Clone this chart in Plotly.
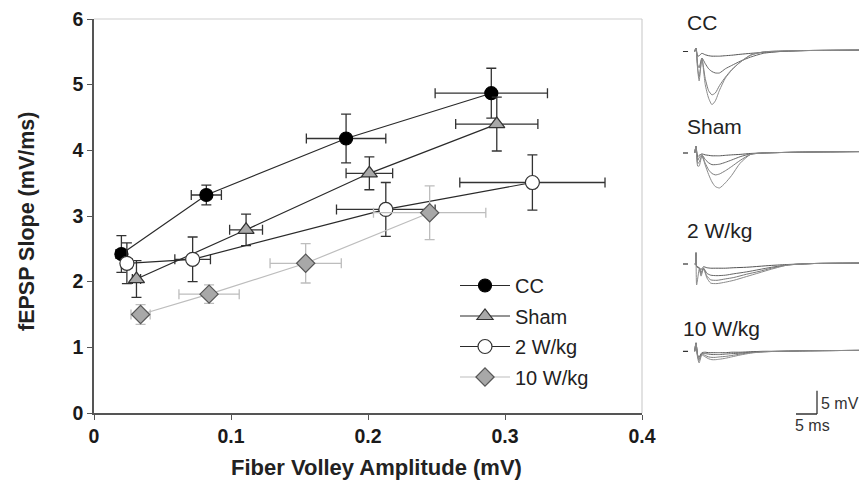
import plotly.graph_objects as go

# ---------------- main chart data ----------------
x_tickvals = [0, 0.1, 0.2, 0.3, 0.4]
x_ticktext = ["0", "0.1", "0.2", "0.3", "0.4"]
y_tickvals = [0, 1, 2, 3, 4, 5, 6]

cc_x = [0.020, 0.082, 0.184, 0.290]
cc_y = [2.42, 3.32, 4.18, 4.87]
cc_xerr = [0.004, 0.011, 0.029, 0.041]
cc_yerr = [0.28, 0.15, 0.37, 0.38]

sham_x = [0.031, 0.111, 0.201, 0.294]
sham_y = [2.04, 2.79, 3.65, 4.40]
sham_xerr = [0.003, 0.012, 0.017, 0.030]
sham_yerr = [0.28, 0.24, 0.25, 0.41]

w2_x = [0.024, 0.072, 0.213, 0.320]
w2_y = [2.28, 2.34, 3.10, 3.51]
w2_xerr = [0.004, 0.013, 0.036, 0.053]
w2_yerr = [0.31, 0.34, 0.41, 0.42]

w10_x = [0.034, 0.084, 0.1545, 0.245]
w10_y = [1.50, 1.81, 2.28, 3.05]
w10_xerr = [0.007, 0.022, 0.026, 0.041]
w10_yerr = [0.15, 0.14, 0.30, 0.41]

# ---------------- example traces (ms, mV) ----------------
trace_t = [-0.3, 0, 0.4, 0.75, 1.4, 2.2, 3.0, 3.8, 4.6, 5.6, 7, 8.5, 10.5, 13, 16, 20, 26, 39]
cc_v = [
    [0, 0.75, -1.0, -0.9, -0.4, -0.7, -0.9, -1.0, -1.0, -1.0, -0.9, -0.8, -0.6, -0.4, -0.2, 0.0, 0.2, 0.3],
    [0, 0.75, -2.8, -3.5, -1.4, -2.6, -3.7, -4.3, -4.6, -4.6, -3.7, -3.0, -2.1, -1.2, -0.4, 0.0, 0.2, 0.3],
    [0, 0.75, -3.6, -5.5, -1.6, -5.8, -8.4, -9.3, -8.9, -7.3, -5.5, -3.9, -2.3, -0.8, -0.1, 0.1, 0.2, 0.3],
    [0, 0.75, -4.0, -6.3, -1.4, -7.1, -10.0, -11.4, -10.6, -8.3, -5.7, -4.0, -2.3, -0.75, -0.1, 0.1, 0.2, 0.3],
]
sham_v = [
    [0, 1.4, -0.8, -0.5, -0.2, -0.4, -0.5, -0.6, -0.6, -0.6, -0.5, -0.4, -0.3, -0.1, 0, 0.1, 0.2, 0.3],
    [0, 1.4, -1.6, -1.0, -0.4, -1.4, -2.1, -2.5, -2.5, -2.4, -2.0, -1.5, -0.8, -0.2, 0, 0.1, 0.2, 0.3],
    [0, 1.4, -2.2, -2.0, -0.6, -2.2, -3.6, -4.4, -4.7, -4.5, -3.8, -2.9, -1.6, -0.3, 0, 0.1, 0.2, 0.3],
    [0, 1.4, -2.8, -2.8, -0.6, -2.6, -4.6, -6.2, -7.2, -7.5, -6.4, -4.8, -2.2, -0.3, 0.0, 0.1, 0.2, 0.3],
]
w2_t = [-0.3, -0.1, 0, 0.15, 0.8, 1.2, 1.8, 2.6, 3.5, 5, 7, 9, 12, 15, 18, 22, 28, 39]
w2_v = [
    [0, 0, 2.4, -0.5, -0.8, -1.2, -0.6, -0.8, -0.9, -0.9, -0.9, -0.8, -0.7, -0.5, -0.3, -0.1, 0.1, 0.2],
    [0, 0, 2.4, -0.5, -0.9, -1.8, -0.9, -2.0, -2.4, -2.5, -2.4, -2.1, -1.7, -1.2, -0.7, -0.2, 0.1, 0.2],
    [0, 0, 2.4, -0.5, -1.0, -2.2, -1.0, -2.6, -3.4, -3.5, -3.2, -2.9, -2.2, -1.6, -0.9, -0.2, 0.1, 0.2],
    [0, 0, 2.4, -4.5, -1.0, -2.6, -1.0, -3.0, -4.1, -4.2, -3.9, -3.5, -2.7, -1.9, -1.1, -0.2, 0.1, 0.2],
]
w10_v = [
    [0, 1.8, -0.8, -1.2, -0.3, -0.2, -0.3, -0.3, -0.3, -0.3, -0.3, -0.2, -0.2, -0.1, 0, 0, 0.1, 0.2],
    [0, 1.8, -1.0, -1.6, -0.5, -0.5, -0.6, -0.7, -0.7, -0.7, -0.6, -0.5, -0.4, -0.2, -0.1, 0, 0.1, 0.2],
    [0, 1.8, -1.2, -2.0, -0.6, -0.9, -1.2, -1.3, -1.3, -1.2, -1.1, -0.9, -0.6, -0.3, -0.1, 0, 0.1, 0.2],
    [0, 1.8, -1.5, -2.5, -0.8, -1.2, -1.6, -1.8, -1.8, -1.7, -1.5, -1.2, -0.8, -0.4, -0.1, 0, 0.1, 0.2],
]
panel_names = ["CC", "Sham", "2 W/kg", "10 W/kg"]
scale_ms = 5
scale_mv = 5

# ---------------- figure ----------------
W, H = 859, 488
FONT = "Liberation Sans, Arial, sans-serif"
DARK = "#2a2a2a"

def px_x(p):
    return p / W

def px_y(p):
    return 1 - p / H

fig = go.Figure()

def add_series(name, xs, ys, xe, ye, line_col, err_col, symbol, fill, mline, size):
    fig.add_trace(go.Scatter(
        x=xs, y=ys, name=name, mode="lines+markers", legendgroup=name,
        line=dict(color=line_col, width=1.2),
        marker=dict(symbol=symbol, size=size, color=fill, line=dict(color=mline, width=1.2)),
        error_x=dict(type="data", array=xe, color=err_col, thickness=1.3, width=5),
        error_y=dict(type="data", array=ye, color=err_col, thickness=1.3, width=5),
        xaxis="x", yaxis="y",
    ))

add_series("CC", cc_x, cc_y, cc_xerr, cc_yerr, DARK, "#333", "circle", "#000000", "#000000", 13)
add_series("Sham", sham_x, sham_y, sham_xerr, sham_yerr, DARK, "#333", "triangle-up", "#a8a8a8", "#333", 14)
add_series("2 W/kg", w2_x, w2_y, w2_xerr, w2_yerr, DARK, "#333", "circle", "#ffffff", "#333", 14)
add_series("10 W/kg", w10_x, w10_y, w10_xerr, w10_yerr, "#bdbdbd", "#bdbdbd", "diamond", "#a8a8a8", "#555", 14)

# example traces panels
baselines_px = [51.5, 153, 264, 351.3]
px_per_ms = 4.2
px_per_mv = 4.66
t0_px = 696
left_px = 680
panel_data = [(trace_t, cc_v), (trace_t, sham_v), (w2_t, w2_v), (trace_t, w10_v)]
trace_cols = ["#555555", "#666666", "#7a7a7a", "#8a8a8a"]
layout_extra = {}
for i, (tt, vv) in enumerate(panel_data):
    ax = i + 2
    for j, v in enumerate(vv):
        fig.add_trace(go.Scatter(
            x=tt, y=v, mode="lines", showlegend=False, hoverinfo="skip",
            line=dict(color=trace_cols[j], width=1, shape="spline", smoothing=0.6),
            xaxis=f"x{ax}", yaxis=f"y{ax}",
        ))
    b = baselines_px[i]
    top, bot = b - 12, b + 68
    layout_extra[f"xaxis{ax}"] = dict(
        domain=[px_x(left_px), 1], anchor=f"y{ax}",
        range=[(left_px - t0_px) / px_per_ms, (W - t0_px) / px_per_ms], visible=False)
    layout_extra[f"yaxis{ax}"] = dict(
        domain=[px_y(bot), px_y(top)], anchor=f"x{ax}",
        range=[-68 / px_per_mv, 12 / px_per_mv], visible=False)

fig.update_layout(**layout_extra)

shapes = []
# light frame on top and right of main plot
shapes.append(dict(type="line", xref="x domain", yref="y domain", x0=0, x1=1, y0=1, y1=1,
                   line=dict(color="#cfcfcf", width=1.2)))
shapes.append(dict(type="line", xref="x domain", yref="y domain", x0=1, x1=1, y0=0, y1=1,
                   line=dict(color="#cfcfcf", width=1.2)))
# baseline markers left of the traces
for i in range(4):
    ax = i + 2
    shapes.append(dict(type="line", xref=f"x{ax}", yref=f"y{ax}", x0=-3.1, x1=-1.9, y0=0, y1=0,
                       line=dict(color="#333", width=1.2)))
# scale bar in 10 W/kg panel coordinates
sb_t1 = (817 - t0_px) / px_per_ms
sb_v0 = (351.3 - 414) / px_per_mv
shapes.append(dict(type="line", xref="x5", yref="y5", x0=sb_t1 - scale_ms, x1=sb_t1, y0=sb_v0, y1=sb_v0,
                   line=dict(color="#333", width=1.3)))
shapes.append(dict(type="line", xref="x5", yref="y5", x0=sb_t1, x1=sb_t1, y0=sb_v0, y1=sb_v0 + scale_mv,
                   line=dict(color="#333", width=1.3)))

annotations = []
label_y = [22.7, 126, 230, 328]
label_x = [685, 685, 685, 681]
for name, ly, lx in zip(panel_names, label_y, label_x):
    annotations.append(dict(text=name, x=px_x(lx), y=px_y(ly), xref="paper", yref="paper",
                            xanchor="left", yanchor="middle", showarrow=False,
                            font=dict(family=FONT, size=21, color="#222")))
annotations.append(dict(text=f"{scale_mv} mV", x=px_x(819), y=px_y(403), xref="paper", yref="paper",
                        xanchor="left", yanchor="middle", showarrow=False,
                        font=dict(family=FONT, size=16, color="#333")))
annotations.append(dict(text=f"{scale_ms} ms", x=px_x(793), y=px_y(425), xref="paper", yref="paper",
                        xanchor="left", yanchor="middle", showarrow=False,
                        font=dict(family=FONT, size=16, color="#333")))
annotations.append(dict(text="fEPSP Slope (mV/ms)", x=px_x(27), y=px_y(222), xref="paper", yref="paper",
                        textangle=-90, xanchor="center", yanchor="middle", showarrow=False,
                        font=dict(family=FONT, size=21.5, color="#222", weight="bold")))
annotations.append(dict(text="Fiber Volley Amplitude (mV)", x=px_x(376), y=px_y(467), xref="paper", yref="paper",
                        xanchor="center", yanchor="middle", showarrow=False,
                        font=dict(family=FONT, size=22, color="#222", weight="bold")))

fig.update_layout(
    width=W, height=H,
    margin=dict(l=0, r=0, t=0, b=0, pad=0, autoexpand=False),
    paper_bgcolor="white", plot_bgcolor="white",
    showlegend=True,
    legend=dict(x=px_x(455), y=px_y(266), xanchor="left", yanchor="top",
                font=dict(family=FONT, size=20, color="#222"),
                bgcolor="rgba(0,0,0,0)", tracegroupgap=1.5, itemwidth=50),
    xaxis=dict(domain=[px_x(94), px_x(642)], range=[0, 0.4], anchor="y",
               tickvals=x_tickvals, ticktext=x_ticktext, automargin=False,
               ticks="outside", ticklen=5, tickwidth=1.3, tickcolor="#555",
               showline=True, linecolor="#555", linewidth=1.5,
               showgrid=False, zeroline=False,
               tickfont=dict(family=FONT, size=19.5, color="#1a1a1a", weight="bold")),
    yaxis=dict(domain=[px_y(413), px_y(19)], range=[0, 6], anchor="x",
               tickvals=y_tickvals, automargin=False,
               ticks="outside", ticklen=5, tickwidth=1.3, tickcolor="#555",
               showline=True, linecolor="#555", linewidth=1.5,
               showgrid=False, zeroline=False,
               tickfont=dict(family=FONT, size=19.5, color="#1a1a1a", weight="bold")),
    shapes=shapes,
    annotations=annotations,
)

fig.write_html("out.html", config={"displayModeBar": False},
               post_script="document.body.style.margin='0';document.body.style.overflow='hidden';")
